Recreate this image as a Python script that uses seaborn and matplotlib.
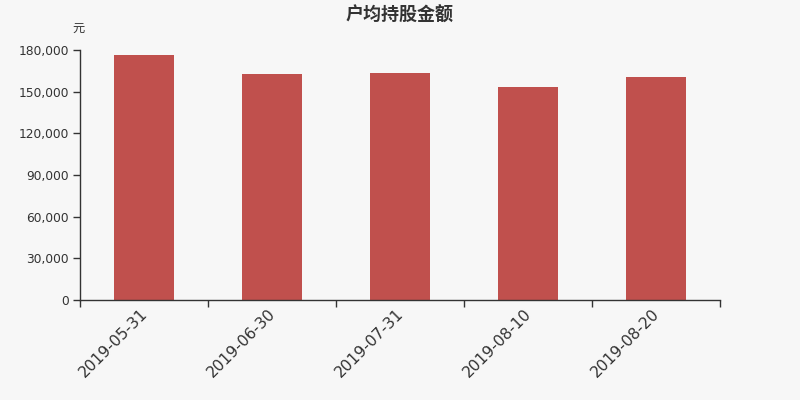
import matplotlib
matplotlib.use("Agg")
import matplotlib.pyplot as plt
import matplotlib.transforms as mtransforms
import seaborn as sns
import pandas as pd
import numpy as np

categories = ["2019-05-31", "2019-06-30", "2019-07-31", "2019-08-10", "2019-08-20"]
values = [176400, 162900, 163400, 153100, 160300]
title = "户均持股金额"
unit = "元"
yticks = [0, 30000, 60000, 90000, 120000, 150000, 180000]

sns.set_theme(style="white")
plt.rcParams['font.family'] = ['DejaVu Sans', 'Noto Sans CJK SC']

bg = "#f7f7f7"
fig = plt.figure(figsize=(8, 4), dpi=100, facecolor=bg)
ax = fig.add_axes([0.1, 0.25, 0.8, 0.625])
ax.set_facecolor(bg)

df = pd.DataFrame({"date": categories, "value": values})
sns.barplot(data=df, x="date", y="value", color="#c0504d", saturation=1, width=0.47,
            linewidth=0, ax=ax)

ax.set_xlim(-0.5, len(categories) - 0.5)
ax.set_ylim(0, 180000)
ax.set_yticks(yticks)
ax.set_yticklabels([f"{v:,}" for v in yticks], fontsize=8.8, color="#333333")
ax.set_xticks(range(len(categories)))
ax.set_xticklabels(categories, rotation=45, ha="right", rotation_mode="anchor",
                   fontsize=11.2, color="#333333")
ax.tick_params(axis="x", which="major", length=0, pad=6)
ax.set_xticks(np.arange(-0.5, len(categories), 1.0), minor=True)
ax.tick_params(axis="x", which="minor", length=5, width=1, color="#333333", bottom=True)
ax.tick_params(axis="y", length=5, width=1, color="#333333", left=True, pad=3)

offset = mtransforms.ScaledTranslation(-4 / 100, 2 / 100, fig.dpi_scale_trans)
for lbl in ax.xaxis.get_majorticklabels():
    lbl.set_transform(lbl.get_transform() + offset)

ax.set_xlabel("")
ax.set_ylabel("")
for s in ["top", "right"]:
    ax.spines[s].set_visible(False)
for s in ["left", "bottom"]:
    ax.spines[s].set_color("#333333")
    ax.spines[s].set_linewidth(1)

fig.text(0.5, 0.963, title, ha="center", va="center", fontsize=13, fontweight="bold",
         color="#333333", family=["Noto Sans CJK SC", "DejaVu Sans"])
fig.text(0.098, 0.93, unit, ha="center", va="center", fontsize=8.8, color="#333333",
         family=["Noto Sans CJK SC", "DejaVu Sans"])

fig.savefig("out.png", dpi=100, facecolor=bg)
